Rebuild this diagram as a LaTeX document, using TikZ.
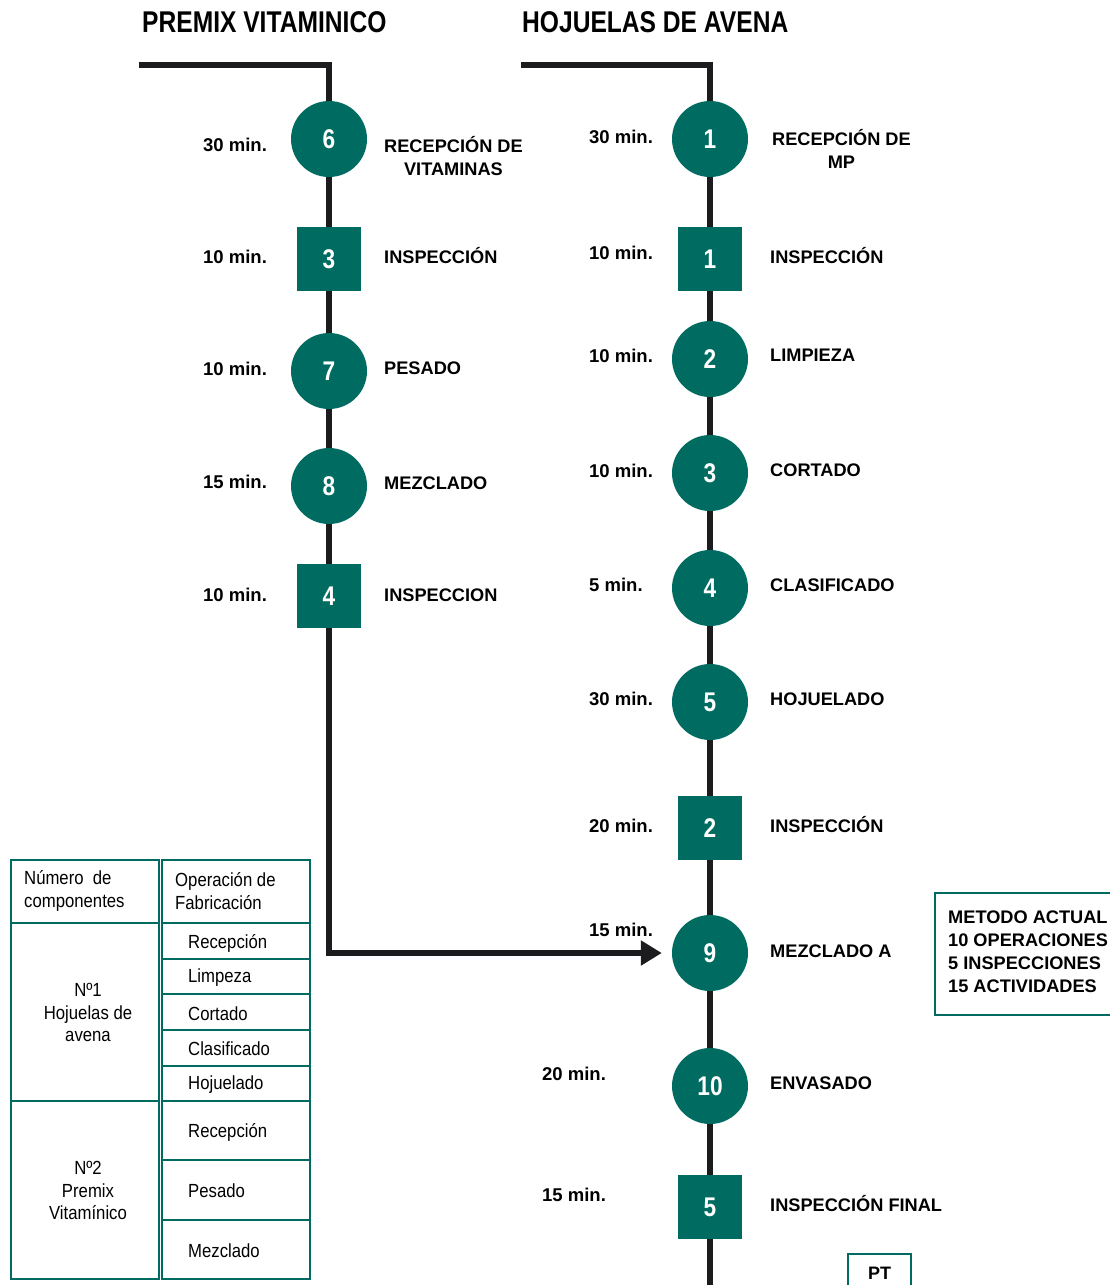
\documentclass[tikz,border=0pt]{standalone}
\usepackage{fontspec}
\setmainfont{Liberation Sans}
\newfontfamily\titlefont[FakeStretch=0.82]{Liberation Sans}
\newfontfamily\numfont[FakeStretch=0.84]{Liberation Sans}
\newfontfamily\tabfont[FakeStretch=0.88]{Liberation Sans}
\usetikzlibrary{arrows.meta}
\definecolor{tealc}{RGB}{0,107,96}
\definecolor{linec}{RGB}{28,28,30}
\begin{document}
\begin{tikzpicture}[x=1pt,y=-1pt,
  flow/.style={line width=6.5pt, draw=linec, line join=miter},
  op/.style={circle, fill=tealc, minimum size=76pt, inner sep=0pt, text=white, font=\numfont\bfseries\fontsize{27}{27}\selectfont},
  insp/.style={rectangle, fill=tealc, minimum size=64pt, inner sep=0pt, text=white, font=\numfont\bfseries\fontsize{27}{27}\selectfont},
  lbl/.style={anchor=west, inner sep=0pt, font=\bfseries\fontsize{18.2}{23}\selectfont, align=center},
  tm/.style={anchor=west, inner sep=0pt, font=\bfseries\fontsize{18.5}{23}\selectfont},
  ttl/.style={anchor=west, inner sep=0pt, font=\titlefont\bfseries\fontsize{30}{30}\selectfont},
  tab/.style={anchor=west, inner sep=0pt, font=\tabfont\fontsize{19}{22.5}\selectfont, align=left},
  tabc/.style={inner sep=0pt, font=\tabfont\fontsize{19}{22.5}\selectfont, align=center},
  box/.style={draw=tealc, line width=2.5pt}
]
\useasboundingbox (0,0) rectangle (1110,1285);
\clip (0,0) rectangle (1110,1285);

% titles
\node[ttl] (tl) at (142,22) {PREMIX VITAMINICO};
\node[ttl] (tr) at (522,22) {HOJUELAS DE AVENA};

% left column nodes
\node[op]   (n6) at (329,139) {6};
\node[insp] (s3) at (329,259) {3};
\node[op]   (n7) at (329,371) {7};
\node[op]   (n8) at (329,486) {8};
\node[insp] (s4) at (329,596) {4};

% right column nodes
\node[op]   (n1)  at (710,139) {1};
\node[insp] (r1)  at (710,259) {1};
\node[op]   (n2)  at (710,359) {2};
\node[op]   (n3)  at (710,473) {3};
\node[op]   (n4)  at (710,588) {4};
\node[op]   (n5)  at (710,702) {5};
\node[insp] (r2)  at (710,828) {2};
\node[op]   (n9)  at (710,953) {9};
\node[op]   (n10) at (710,1086) {10};
\node[insp] (r5)  at (710,1207) {5};

% flow lines
\coordinate (LS) at (139,65);
\coordinate (RS) at (521,65);
\coordinate (RE) at (710,1295);
\draw[flow] (LS) -| (n6);
\draw[flow] (n6) -- (s3) -- (n7) -- (n8) -- (s4);
\draw[flow, -{Triangle[length=21pt,width=24pt]}, shorten >=10pt] (s4) |- (n9);
\draw[flow] (RS) -| (n1);
\draw[flow] (n1) -- (r1) -- (n2) -- (n3) -- (n4) -- (n5) -- (r2) -- (n9) -- (n10) -- (r5) -- (RE);

% left times
\node[tm] (lt6) at (203,145) {30 min.};
\node[tm] (lt3) at (203,257) {10 min.};
\node[tm] (lt7) at (203,369) {10 min.};
\node[tm] (lt8) at (203,482) {15 min.};
\node[tm] (lt4) at (203,595) {10 min.};

% left labels
\node[lbl] (ll6) at (384,156.5) {RECEPCIÓN DE\\VITAMINAS};
\node[lbl] (ll3) at (384,256) {INSPECCIÓN};
\node[lbl] (ll7) at (384,368) {PESADO};
\node[lbl] (ll8) at (384,483) {MEZCLADO};
\node[lbl] (ll4) at (384,595) {INSPECCION};

% right times
\node[tm] (rt1)  at (589,137) {30 min.};
\node[tm] (rt2)  at (589,253) {10 min.};
\node[tm] (rt3)  at (589,356) {10 min.};
\node[tm] (rt4)  at (589,471) {10 min.};
\node[tm] (rt5)  at (589,585) {5 min.};
\node[tm] (rt6)  at (589,699) {30 min.};
\node[tm] (rt7)  at (589,826) {20 min.};
\node[tm] (rt8)  at (589,930) {15 min.};
\node[tm] (rt9)  at (542,1074) {20 min.};
\node[tm] (rt10) at (542,1195) {15 min.};

% right labels
\node[lbl] (rl1)  at (772,148.5) {RECEPCIÓN DE\\MP};
\node[lbl] (rl2)  at (770,256) {INSPECCIÓN};
\node[lbl] (rl3)  at (770,355) {LIMPIEZA};
\node[lbl] (rl4)  at (770,470) {CORTADO};
\node[lbl] (rl5)  at (770,585) {CLASIFICADO};
\node[lbl] (rl6)  at (770,699) {HOJUELADO};
\node[lbl] (rl7)  at (770,825) {INSPECCIÓN};
\node[lbl] (rl8)  at (770,951) {MEZCLADO A};
\node[lbl] (rl9)  at (770,1083) {ENVASADO};
\node[lbl] (rl10) at (770,1204) {INSPECCIÓN FINAL};

% summary box
\draw[box] (935,893) rectangle (1125,1015);
\node[tm, align=left, font=\bfseries\fontsize{18.2}{23}\selectfont] (sum) at (948,951.5) {METODO ACTUAL\\10 OPERACIONES\\5 INSPECCIONES\\15 ACTIVIDADES};

% PT box
\draw[box] (848,1254) rectangle (911,1300);
\node[inner sep=0pt, font=\bfseries\fontsize{18}{18}\selectfont] (pt) at (879.5,1273) {PT};

% table
\draw[box] (11,860) rectangle (159,1279);
\draw[box] (162,860) rectangle (310,1279);
\draw[box] (11,923) -- (159,923);
\draw[box] (11,1101) -- (159,1101);
\foreach \yy in {923,959,994,1030,1066,1101,1160,1220}
  \draw[box] (162,\yy) -- (310,\yy);

\node[tab] (h1) at (24,891) {Número~~de\\componentes};
\node[tab] (h2) at (175,891) {Operación de\\Fabricación};
\node[tabc] (g1) at (88,1012.5) {Nº1\\Hojuelas de\\avena};
\node[tabc] (g2) at (88,1190.5) {Nº2\\Premix\\Vitamínico};
\node[tab] (c1) at (188,943) {Recepción};
\node[tab] (c2) at (188,978) {Limpeza};
\node[tab] (c3) at (188,1014) {Cortado};
\node[tab] (c4) at (188,1049) {Clasificado};
\node[tab] (c5) at (188,1085) {Hojuelado};
\node[tab] (c6) at (188,1132) {Recepción};
\node[tab] (c7) at (188,1191) {Pesado};
\node[tab] (c8) at (188,1251) {Mezclado};
\end{tikzpicture}
\end{document}
